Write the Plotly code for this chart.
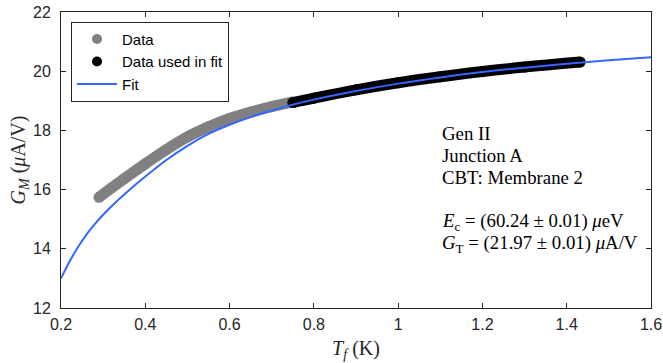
import plotly.graph_objects as go

t_data = [0.29, 0.32, 0.35, 0.40, 0.45, 0.50, 0.55, 0.60, 0.65, 0.70, 0.75]
g_data = [15.74, 16.06, 16.37, 16.87, 17.35, 17.78, 18.12, 18.40, 18.62, 18.80, 18.96]

t_fitdata = [0.75, 0.80, 0.90, 1.00, 1.10, 1.20, 1.30, 1.432]
g_fitdata = [18.94, 19.09, 19.37, 19.61, 19.81, 19.99, 20.14, 20.31]

t_fit = [0.20, 0.22, 0.24, 0.26, 0.28, 0.30, 0.32, 0.36, 0.40, 0.45, 0.50, 0.55, 0.60,
         0.65, 0.70, 0.75, 0.80, 0.90, 1.00, 1.10, 1.20, 1.30, 1.40, 1.50, 1.60]
g_fit = [13.00, 13.56, 14.05, 14.47, 14.83, 15.15, 15.44, 15.96, 16.44, 17.00, 17.48,
         17.88, 18.19, 18.45, 18.67, 18.87, 19.04, 19.33, 19.58, 19.79, 19.97, 20.12,
         20.25, 20.37, 20.47]

x_ticks = [0.2, 0.4, 0.6, 0.8, 1.0, 1.2, 1.4, 1.6]
x_ticklabels = ["0.2", "0.4", "0.6", "0.8", "1", "1.2", "1.4", "1.6"]
y_ticks = [12, 14, 16, 18, 20, 22]

GRAY = "#808080"
BLACK = "#000000"
BLUE = "#3366ff"
BAND = 11

fig = go.Figure()

fig.add_trace(go.Scatter(x=t_data, y=g_data, mode="lines+markers",
                         line=dict(color=GRAY, width=BAND, shape="spline"),
                         marker=dict(color=GRAY, size=BAND), showlegend=False))
fig.add_trace(go.Scatter(x=t_fitdata, y=g_fitdata, mode="lines+markers",
                         line=dict(color=BLACK, width=BAND, shape="spline"),
                         marker=dict(color=BLACK, size=BAND), showlegend=False))
fig.add_trace(go.Scatter(x=t_fit, y=g_fit, mode="lines",
                         line=dict(color=BLUE, width=2, shape="spline"), showlegend=False))

# legend entries
fig.add_trace(go.Scatter(x=[None], y=[None], mode="markers", name="Data",
                         marker=dict(color=GRAY, size=10)))
fig.add_trace(go.Scatter(x=[None], y=[None], mode="markers", name="Data used in fit",
                         marker=dict(color=BLACK, size=10)))
fig.add_trace(go.Scatter(x=[None], y=[None], mode="lines", name="Fit",
                         line=dict(color=BLUE, width=2)))

serif = "Liberation Serif"
lines = [
    ("Gen II", 0),
    ("Junction A", 1),
    ("CBT: Membrane 2", 2),
    ("<i>E</i><sub>c</sub> = (60.24 ± 0.01) <i>μ</i>eV", 4),
    ("<i>G</i><sub>T</sub> = (21.97 ± 0.01) <i>μ</i>A/V", 5),
]
y0 = 0.588
step = 0.0743
for txt, i in lines:
    fig.add_annotation(x=0.642, xref="paper", y=y0 - i * step, yref="paper",
                       text=txt, showarrow=False, xanchor="left", yanchor="middle",
                       font=dict(family=serif, size=18.8, color="black"))

axis_common = dict(showgrid=False, zeroline=False, showline=True, linecolor="#262626",
                   linewidth=1, mirror="ticks", ticks="inside", ticklen=5,
                   tickcolor="#262626", automargin=False,
                   tickfont=dict(family="Liberation Sans", size=16, color="#262626"))

fig.update_layout(
    width=663, height=363,
    margin=dict(l=61, r=12, t=12, b=55),
    paper_bgcolor="white", plot_bgcolor="white",
    xaxis=dict(range=[0.2, 1.6], tickvals=x_ticks, ticktext=x_ticklabels,
               ticklabelstandoff=2,
               title=dict(text="<i>T</i><sub><i>f</i></sub> (K)",
                          font=dict(family=serif, size=20, color="#262626"), standoff=8),
               **axis_common),
    yaxis=dict(range=[12, 22], tickvals=y_ticks, ticklabelstandoff=6,
               title=dict(text="<i>G</i><sub><i>M</i></sub> (<i>μ</i>A/V)",
                          font=dict(family=serif, size=20, color="#262626"), standoff=2),
               **axis_common),
    legend=dict(x=0.017, y=0.967, xanchor="left", yanchor="top",
                bgcolor="white", bordercolor="#262626", borderwidth=1,
                font=dict(family="Liberation Sans", size=15, color="black"),
                tracegroupgap=0, itemwidth=40),
)

fig.write_html("out.html")
